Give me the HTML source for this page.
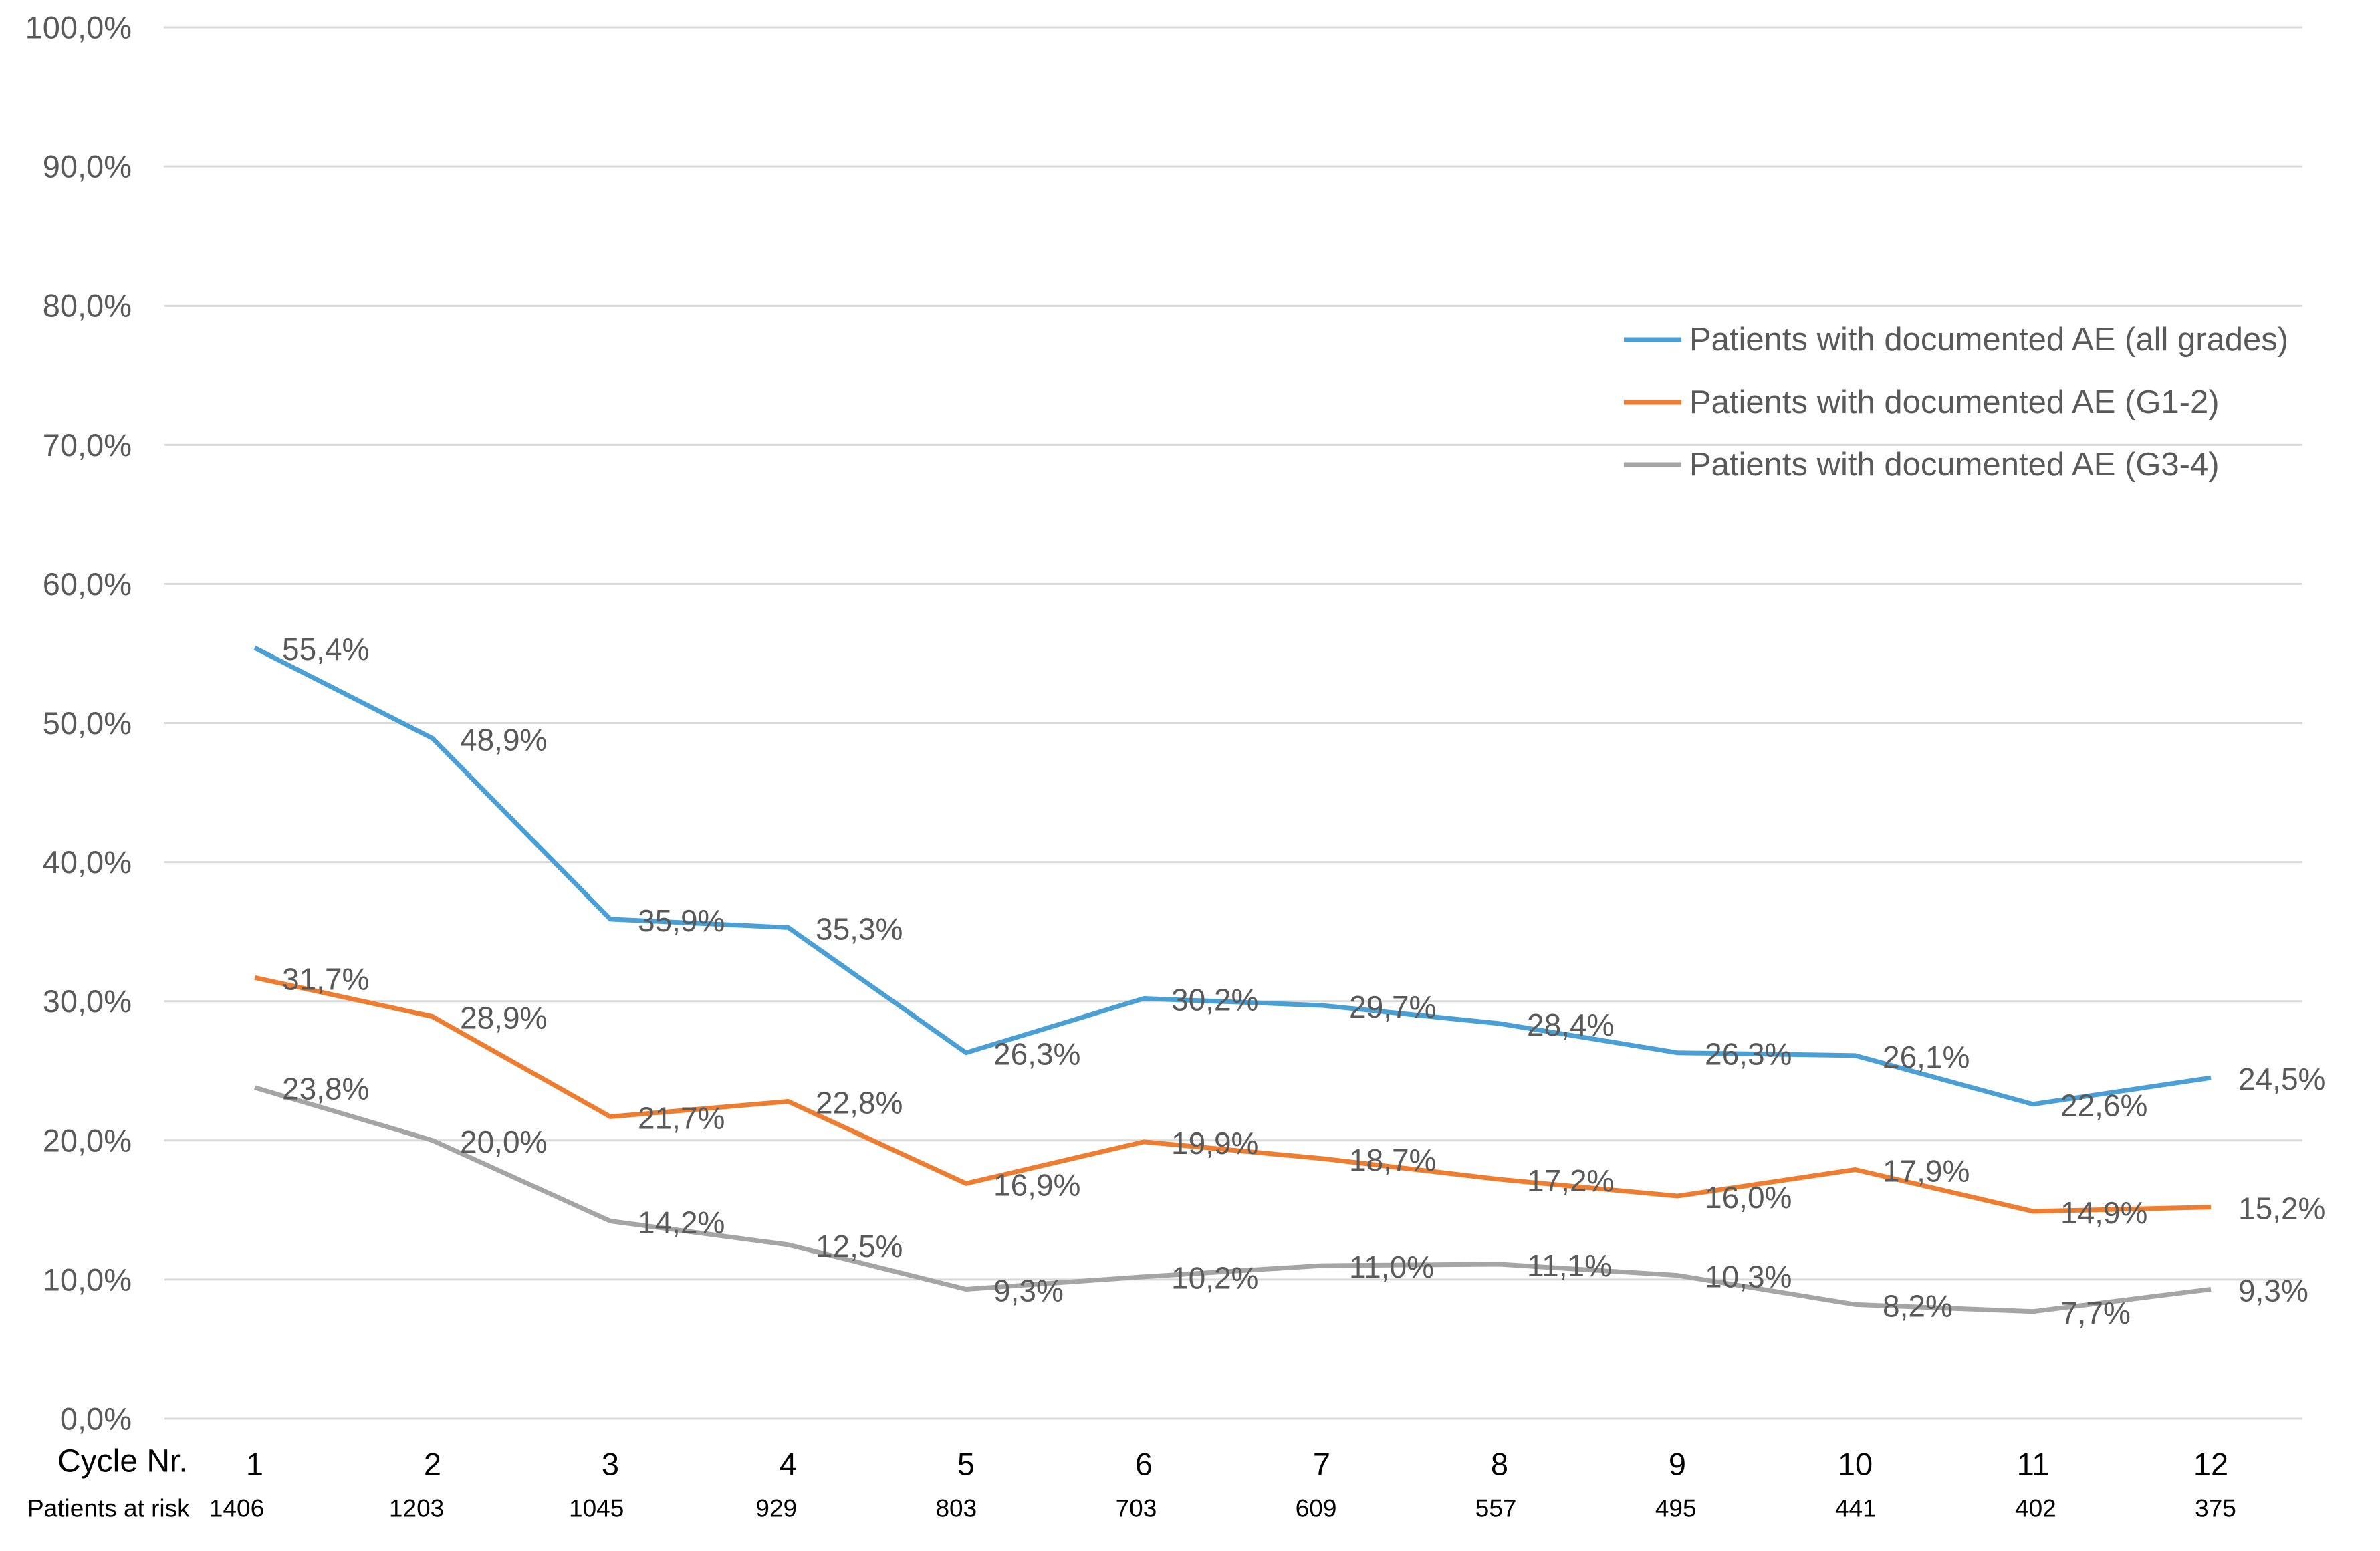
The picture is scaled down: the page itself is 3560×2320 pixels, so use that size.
<!DOCTYPE html>
<html><head><meta charset="utf-8">
<style>
html,body{margin:0;padding:0;background:#fff;}
svg{display:block;font-family:"Liberation Sans",sans-serif;}
</style></head>
<body>
<svg id="chart" width="3560" height="2320" viewBox="0 0 3560 2320" xmlns="http://www.w3.org/2000/svg">
<g id="grid"></g>
<g id="yaxis"></g>
<g id="xaxis"></g>
<g id="series"></g>
<g id="labels"></g>
<g id="legend"></g>
</svg>
<script>
const cycles = [1,2,3,4,5,6,7,8,9,10,11,12];
const atRisk = [1406,1203,1045,929,803,703,609,557,495,441,402,375];
const allGrades = [55.4,48.9,35.9,35.3,26.3,30.2,29.7,28.4,26.3,26.1,22.6,24.5];
const g12 = [31.7,28.9,21.7,22.8,16.9,19.9,18.7,17.2,16.0,17.9,14.9,15.2];
const g34 = [23.8,20.0,14.2,12.5,9.3,10.2,11.0,11.1,10.3,8.2,7.7,9.3];
const yTicks = [0,10,20,30,40,50,60,70,80,90,100];
const seriesNames = ["Patients with documented AE (all grades)","Patients with documented AE (G1-2)","Patients with documented AE (G3-4)"];

const NS="http://www.w3.org/2000/svg";
const L=245,R=3444,Y0=2122,Y100=41;
const X1=381,X12=3307;
const RX1=354,RX12=3314;
function xs(i){return X1+(X12-X1)*i/(cycles.length-1);}
function rxs(i){return RX1+(RX12-RX1)*i/(atRisk.length-1);}
function ys(v){return Y0-(Y0-Y100)*v/100;}
function fmt(v){return v.toFixed(1).replace('.',',')+'%';}
function mk(tag,attrs,parent,text){const e=document.createElementNS(NS,tag);for(const k in attrs)e.setAttribute(k,attrs[k]);if(text!==undefined)e.textContent=text;parent.appendChild(e);return e;}

const grid=document.getElementById('grid'),yax=document.getElementById('yaxis'),xax=document.getElementById('xaxis'),ser=document.getElementById('series'),lab=document.getElementById('labels'),leg=document.getElementById('legend');

yTicks.forEach(t=>{
  const l=mk('line',{x1:L,x2:R,y1:ys(t),y2:ys(t),stroke:'#d9d9d9','stroke-width':3},grid);
  
  
  const tx=mk('text',{x:197,y:ys(t),'text-anchor':'end','dominant-baseline':'central','font-size':47,fill:'#595959'},yax,fmt(t));
  
  
});

const c1=mk('text',{x:86,y:2186,'font-size':48,fill:'#000','dominant-baseline':'central'},xax,'Cycle Nr.');


const c2=mk('text',{x:41,y:2256,'font-size':37,fill:'#000','dominant-baseline':'central'},xax,'Patients at risk');


cycles.forEach((c,i)=>{
  const t=mk('text',{x:xs(i),y:2190,'text-anchor':'middle','dominant-baseline':'central','font-size':47,fill:'#000'},xax,String(c));
  
  
});
atRisk.forEach((n,i)=>{
  const r=mk('text',{x:rxs(i),y:2256,'text-anchor':'middle','dominant-baseline':'central','font-size':37,fill:'#000'},xax,String(n));
  
  
});

const data=[allGrades,g12,g34],colors=['#4a9fd5','#ed7d31','#a5a5a5'],keys=['all-grades','g1-2','g3-4'];
data.slice().reverse().forEach((arr,ri)=>{
  const k=2-ri;
  const p=mk('polyline',{points:arr.map((v,i)=>xs(i)+','+ys(v)).join(' '),fill:'none',stroke:colors[k],'stroke-width':7,'stroke-linejoin':'round'},ser);
  
  
});
data.forEach((arr,k)=>{
  arr.forEach((v,i)=>{
    const t=mk('text',{x:xs(i)+41,y:ys(v)+2,'dominant-baseline':'central','font-size':46,fill:'#595959'},lab,fmt(v));
    
    
  });
});

const legY=[508,602,695];
seriesNames.forEach((n,k)=>{
  const g=mk('g',{},leg);
  
  
  mk('line',{x1:2429,x2:2515,y1:legY[k],y2:legY[k],stroke:colors[k],'stroke-width':7},g);
  mk('text',{x:2527,y:legY[k],'dominant-baseline':'central','font-size':49,fill:'#595959'},g,n);
});
</script>
</body></html>
